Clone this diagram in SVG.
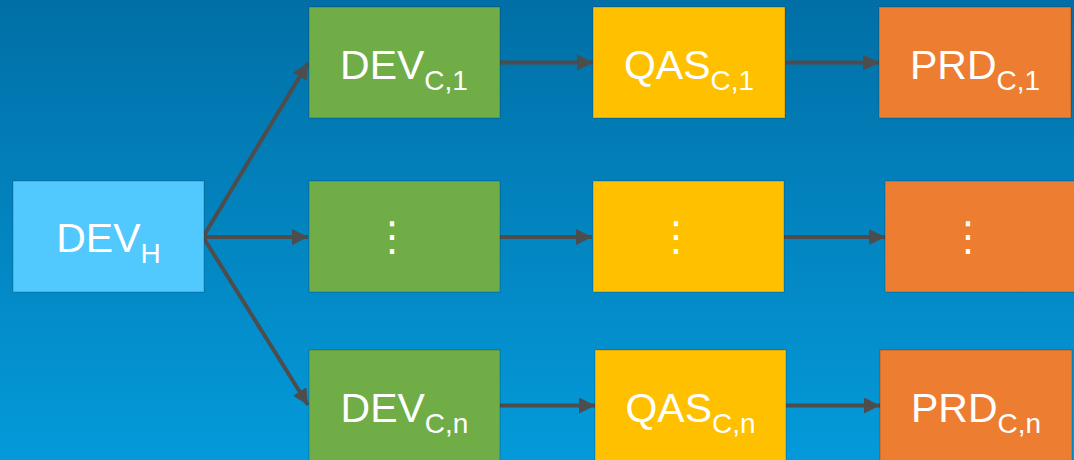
<svg xmlns="http://www.w3.org/2000/svg" width="1074" height="460" viewBox="0 0 1074 460">
  <defs>
    <linearGradient id="bg" x1="0" y1="0" x2="0" y2="1">
      <stop offset="0" stop-color="#016fa6"/>
      <stop offset="1" stop-color="#049ada"/>
    </linearGradient>
    <marker id="arr" markerUnits="userSpaceOnUse" markerWidth="16" markerHeight="16" viewBox="0 0 16 16" refX="16" refY="8" orient="auto">
      <path d="M0,0 L16,8 L0,16 Z" fill="#4d4d4d"/>
    </marker>
  </defs>
  <style>
    .box { stroke: #000; stroke-opacity: 0.22; stroke-width: 1; }
    .hub { fill: #51c8fe; }
    .dev { fill: #70ad47; }
    .qas { fill: #ffc000; }
    .prd { fill: #ed7d31; }
    .lbl { font-family: "Liberation Sans", Arial, sans-serif; font-size: 41px; fill: #ffffff; text-anchor: middle; }
    .sub { font-size: 28px; }
    .dots { font-family: "DejaVu Sans", sans-serif; font-size: 40px; fill: #ffffff; text-anchor: middle; }
    .con { stroke: #4d4d4d; stroke-width: 4; fill: none; marker-end: url(#arr); }
  </style>
  <rect width="1074" height="460" fill="url(#bg)"/>

  <g id="connectors">
    <line class="con" x1="203" y1="237" x2="308" y2="63"/>
    <line class="con" x1="203" y1="237" x2="308" y2="237"/>
    <line class="con" x1="203" y1="237" x2="308" y2="405"/>
    <line class="con" x1="500" y1="62.5" x2="593" y2="62.5"/>
    <line class="con" x1="785" y1="62.5" x2="879" y2="62.5"/>
    <line class="con" x1="500" y1="237" x2="592" y2="237"/>
    <line class="con" x1="784" y1="237" x2="885" y2="237"/>
    <line class="con" x1="500" y1="405.5" x2="595" y2="405.5"/>
    <line class="con" x1="786" y1="405.5" x2="880" y2="405.5"/>
  </g>

  <g id="devH">
    <rect class="box hub" x="13" y="181" width="191" height="111"/>
    <text class="lbl" x="108.5" y="252">DEV<tspan class="sub" dy="11">H</tspan></text>
  </g>

  <g id="devC1">
    <rect class="box dev" x="309" y="7" width="191" height="111"/>
    <text class="lbl" x="404" y="79">DEV<tspan class="sub" dy="11">C,1</tspan></text>
  </g>
  <g id="qasC1">
    <rect class="box qas" x="593" y="7" width="192" height="111"/>
    <text class="lbl" x="689" y="79">QAS<tspan class="sub" dy="11">C,1</tspan></text>
  </g>
  <g id="prdC1">
    <rect class="box prd" x="879" y="7" width="192" height="111"/>
    <text class="lbl" x="975" y="79">PRD<tspan class="sub" dy="11">C,1</tspan></text>
  </g>

  <g id="devDots">
    <rect class="box dev" x="309" y="181" width="191" height="111"/>
    <text class="dots" x="392" y="250">⋮</text>
  </g>
  <g id="qasDots">
    <rect class="box qas" x="593" y="181" width="191" height="111"/>
    <text class="dots" x="676" y="250">⋮</text>
  </g>
  <g id="prdDots">
    <rect class="box prd" x="885" y="181" width="195" height="111"/>
    <text class="dots" x="968" y="250">⋮</text>
  </g>

  <g id="devCn">
    <rect class="box dev" x="309" y="350" width="191" height="120"/>
    <text class="lbl" x="404.5" y="421.5">DEV<tspan class="sub" dy="11">C,n</tspan></text>
  </g>
  <g id="qasCn">
    <rect class="box qas" x="595" y="350" width="191" height="120"/>
    <text class="lbl" x="690.5" y="421.5">QAS<tspan class="sub" dy="11">C,n</tspan></text>
  </g>
  <g id="prdCn">
    <rect class="box prd" x="880" y="350" width="192" height="120"/>
    <text class="lbl" x="976" y="421.5">PRD<tspan class="sub" dy="11">C,n</tspan></text>
  </g>
</svg>
